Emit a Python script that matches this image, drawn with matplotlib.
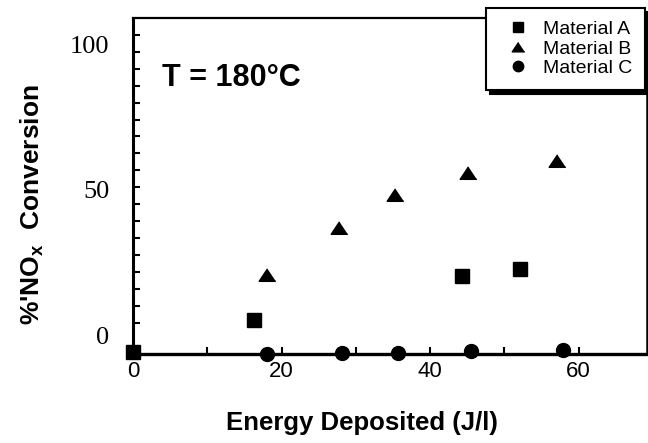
import numpy as np
import matplotlib
matplotlib.use("Agg")
import matplotlib.pyplot as plt

plt.rcParams['font.family'] = ['Liberation Sans', 'DejaVu Sans']
plt.rcParams['mathtext.fontset'] = 'custom'
plt.rcParams['mathtext.bf'] = 'Liberation Sans:bold'
plt.rcParams['mathtext.rm'] = 'Liberation Sans'

# values
a_x = [0, 16.3, 44.3, 52.1]
a_y = [-5.9, 5.2, 20.3, 22.8]
b_x = [18.0, 27.7, 35.3, 45.1, 57.1]
b_y = [20.7, 36.9, 48.3, 55.9, 60.0]
c_x = [18.0, 28.1, 35.7, 45.5, 57.9]
c_y = [-6.5, -6.2, -6.1, -5.6, -5.2]

x_labels = ['0', '20', '40', '60']
y_labels = ['0', '50', '100']

fig = plt.figure(figsize=(6.48, 4.43), dpi=100)
ax = fig.add_axes([133/648, 1 - 354/443, (647 - 133)/648, (354 - 18)/443])

tri = [(0, 0.8), (-1, -0.7), (1, -0.7)]
ax.plot(a_x, a_y, 's', color='black', ms=10, ls='none', clip_on=False, label='Material A')
ax.plot(b_x, b_y, marker=tri, color='black', ms=12, ls='none', clip_on=False, label='Material B')
ax.plot(c_x, c_y, 'o', color='black', ms=10, ls='none', clip_on=False, label='Material C')

ax.set_xlim(0, 69.2)
ax.set_ylim(-6.55, 109.3)

ax.set_xticks([0, 20, 40, 60])
ax.set_xticklabels(x_labels, fontsize=16)
ax.set_xticks([10, 30, 50], minor=True)
ax.tick_params(axis='x', which='both', direction='in', length=5, width=1.5, pad=5)

ax.set_yticks([0, 50, 100])
ax.set_yticklabels(y_labels, fontsize=19, family='Liberation Serif')
ax.set_yticks(np.arange(4.1, 108, 5.85), minor=True)
ax.tick_params(axis='y', which='major', length=0, pad=17)
ax.tick_params(axis='y', which='minor', direction='in', length=5, width=1.5)

ax.spines['left'].set_linewidth(2.2)
ax.spines['bottom'].set_linewidth(2.4)
ax.spines['top'].set_linewidth(1.6)
ax.spines['right'].set_linewidth(1.8)

leg = ax.legend(loc='upper right', bbox_to_anchor=(0.996, 1.03), borderaxespad=0,
                fontsize=14, frameon=True, fancybox=False, markerscale=0.75,
                handlelength=2.0, handletextpad=0.3, labelspacing=0.1, borderpad=0.65,
                shadow={'ox': 3, 'oy': -3, 'color': 'black', 'alpha': 1})
leg.get_frame().set_edgecolor('black')
leg.get_frame().set_linewidth(1.5)
leg.get_frame().set_alpha(1)

fig.text(162/648, 1 - 78/443, 'T = 180°C', fontsize=22, fontweight='bold', va='center', ha='left')
fig.text(32/648, 1 - 205/443, r"%'NO$_\mathbf{x}$  Conversion", fontsize=19, fontweight='bold',
         rotation=90, ha='center', va='center')
fig.text(362/648, 1 - 423/443, 'Energy Deposited (J/l)', fontsize=18.5, fontweight='bold',
         ha='center', va='center')

fig.savefig('out.png', dpi=100)
